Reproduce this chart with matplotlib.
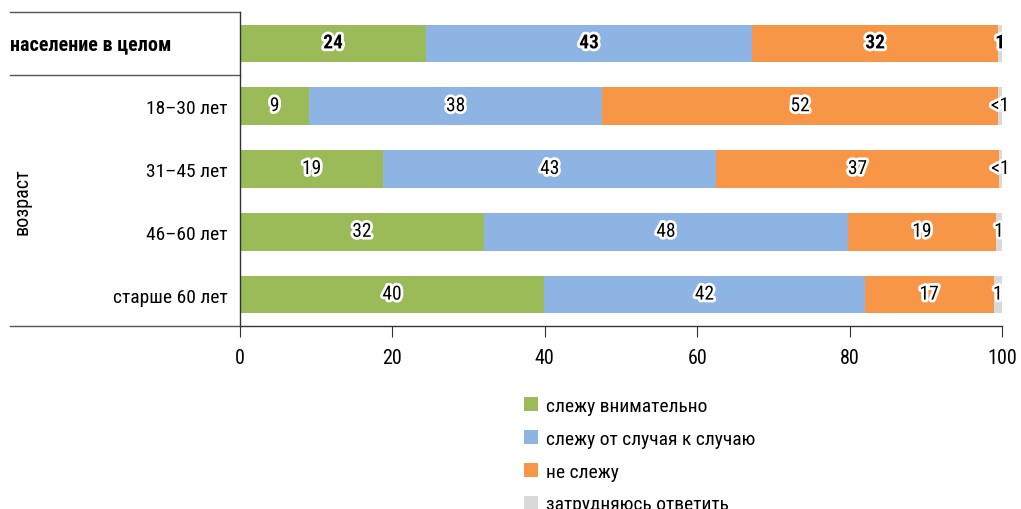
import matplotlib
matplotlib.use('Agg')
import matplotlib.pyplot as plt
import matplotlib.patheffects as pe
from matplotlib.lines import Line2D
from matplotlib.patches import Patch
from matplotlib.transforms import blended_transform_factory
from matplotlib import font_manager

names = {f.name for f in font_manager.fontManager.ttflist}
narrow = [n for n in ['Roboto Condensed', 'Liberation Sans Narrow', 'Open Sans Condensed', 'DejaVu Sans Condensed'] if n in names]
plt.rcParams['font.family'] = narrow + ['DejaVu Sans']

categories = ['население в целом', '18–30 лет', '31–45 лет', '46–60 лет', 'старше 60 лет']
group_label = 'возраст'
series_names = ['слежу внимательно', 'слежу от случая к случаю', 'не слежу', 'затрудняюсь ответить']
colors = ['#9BBB59', '#8EB4E3', '#F79646', '#D9D9D9']

attentive = [24.4, 9.1, 18.8, 32.0, 39.9]
occasional = [42.8, 38.4, 43.7, 47.8, 42.1]
not_following = [32.3, 52.0, 37.1, 19.4, 16.9]
hard_to_say = [0.5, 0.5, 0.4, 0.8, 1.1]

attentive_lbl = ['24', '9', '19', '32', '40']
occasional_lbl = ['43', '38', '43', '48', '42']
not_following_lbl = ['32', '52', '37', '19', '17']
hard_to_say_lbl = ['1', '<1', '<1', '1', '1']

xticks = [0, 20, 40, 60, 80, 100]

W, H = 1021, 510
fig = plt.figure(figsize=(W / 100, H / 100), dpi=100)
ax = fig.add_axes([240 / W, 1 - 327 / H, 762 / W, 314 / H])

series = [attentive, occasional, not_following, hard_to_say]
labels = [attentive_lbl, occasional_lbl, not_following_lbl, hard_to_say_lbl]
ypos = list(range(len(categories)))
left = [0.0] * len(categories)
stroke = [pe.withStroke(linewidth=4, foreground='white')]
for vals, lbls, col in zip(series, labels, colors):
    ax.barh(ypos, vals, left=left, height=0.6, color=col, linewidth=0)
    for i, (v, l0, t) in enumerate(zip(vals, left, lbls)):
        ax.text(l0 + v / 2, i, t, ha='center', va='center', fontsize=14,
                fontweight='bold' if i == 0 else 'normal', color='black',
                path_effects=stroke, zorder=5)
    left = [a + b for a, b in zip(left, vals)]

ax.set_xlim(0, 100)
ax.set_ylim(4.5, -0.5)
ax.set_xticks(xticks)
ax.set_xticklabels([str(x) for x in xticks])
ax.set_yticks(ypos)
ax.set_yticklabels([''] + categories[1:])
ax.tick_params(axis='y', length=0, pad=9, labelsize=14)
ax.tick_params(axis='x', length=8, pad=8, labelsize=14.5, direction='out',
               color='#333333')
for s in ['top', 'right']:
    ax.spines[s].set_visible(False)
for s in ['left', 'bottom']:
    ax.spines[s].set_color('#333333')
    ax.spines[s].set_linewidth(1)

tr = blended_transform_factory(fig.transFigure, ax.transData)
ax.text(10 / W, 0, categories[0], transform=tr, ha='left', va='center',
        fontsize=14.5, fontweight='bold')
ax.text(22 / W, 2.5, group_label, transform=tr, ha='center', va='center',
        fontsize=14.5, rotation=90)

for yv in [-0.5, 0.5, 4.5]:
    ax.add_line(Line2D([10 / W, 240 / W], [yv, yv], transform=tr, color='#555555',
                       linewidth=1, clip_on=False))

handles = [Patch(facecolor=c, edgecolor='none') for c in colors]
fig.legend(handles, series_names, loc='upper left', bbox_to_anchor=(524 / W, 1 - 398 / H),
           frameon=False, fontsize=14, handlelength=0.7, handleheight=0.7,
           handletextpad=0.45, labelspacing=0.76, borderpad=0, borderaxespad=0)

fig.savefig('out.png', dpi=100)
